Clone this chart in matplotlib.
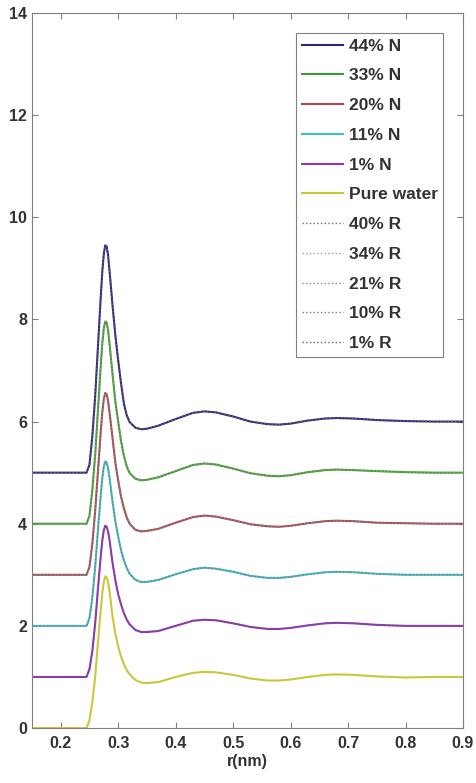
import numpy as np
import matplotlib
matplotlib.use('Agg')
import matplotlib.pyplot as plt

plt.rcParams['font.family'] = ['Liberation Sans', 'DejaVu Sans']

# r grid (nm)
r = [0.15, 0.245, 0.25, 0.255, 0.26, 0.265, 0.27, 0.2725, 0.275, 0.2775, 0.28, 0.2825,
     0.285, 0.29, 0.295, 0.30, 0.305, 0.31, 0.315, 0.32, 0.33, 0.34, 0.35, 0.37, 0.40,
     0.43, 0.45, 0.47, 0.50, 0.53, 0.56, 0.58, 0.60, 0.63, 0.66, 0.68, 0.71, 0.75,
     0.80, 0.85, 0.90]

# g(r) per curve (without offset)
g_44N = [0, 0, 0.15, 0.7, 1.5, 2.5, 3.5, 3.95, 4.28, 4.45, 4.43, 4.25, 3.95, 3.3, 2.7,
         2.2, 1.75, 1.35, 1.12, 0.99, 0.88, 0.85, 0.86, 0.92, 1.05, 1.17, 1.2, 1.18, 1.1,
         1.0, 0.95, 0.94, 0.96, 1.02, 1.06, 1.07, 1.06, 1.03, 1.01, 1.0, 1.0]
g_33N = [0, 0, 0.15, 0.65, 1.35, 2.25, 3.15, 3.55, 3.82, 3.96, 3.94, 3.78, 3.52, 2.95, 2.4,
         2.0, 1.62, 1.33, 1.12, 0.99, 0.88, 0.85, 0.86, 0.91, 1.03, 1.15, 1.18, 1.16, 1.08,
         0.99, 0.94, 0.93, 0.95, 1.01, 1.05, 1.06, 1.05, 1.03, 1.01, 1.0, 1.0]
g_20N = [0, 0, 0.15, 0.6, 1.25, 2.05, 2.85, 3.2, 3.44, 3.56, 3.54, 3.4, 3.18, 2.7, 2.2,
         1.85, 1.53, 1.3, 1.12, 1.0, 0.88, 0.85, 0.86, 0.9, 1.02, 1.13, 1.16, 1.14, 1.07,
         0.99, 0.95, 0.94, 0.96, 1.01, 1.05, 1.06, 1.05, 1.02, 1.01, 1.0, 1.0]
g_11N = [0, 0, 0.15, 0.55, 1.15, 1.9, 2.6, 2.9, 3.12, 3.22, 3.2, 3.08, 2.9, 2.45, 2.05,
         1.75, 1.48, 1.28, 1.13, 1.02, 0.9, 0.86, 0.86, 0.9, 1.01, 1.11, 1.14, 1.12, 1.06,
         0.98, 0.94, 0.94, 0.96, 1.01, 1.05, 1.06, 1.05, 1.02, 1.0, 1.0, 1.0]
g_1N = [0, 0, 0.15, 0.5, 1.05, 1.75, 2.4, 2.68, 2.87, 2.96, 2.94, 2.84, 2.68, 2.25, 1.9,
        1.62, 1.42, 1.25, 1.12, 1.03, 0.92, 0.88, 0.88, 0.9, 1.0, 1.1, 1.12, 1.11, 1.05,
        0.98, 0.94, 0.94, 0.96, 1.01, 1.05, 1.06, 1.05, 1.02, 1.0, 1.0, 1.0]
g_water = [0, 0, 0.15, 0.5, 1.0, 1.7, 2.35, 2.65, 2.86, 2.97, 2.95, 2.85, 2.68, 2.2, 1.85,
           1.6, 1.4, 1.25, 1.13, 1.05, 0.94, 0.89, 0.88, 0.9, 1.0, 1.08, 1.1, 1.09, 1.04,
           0.97, 0.93, 0.93, 0.95, 1.0, 1.04, 1.05, 1.04, 1.01, 0.99, 1.0, 1.0]

# the R curves lie on top of the N curves
g_40R = g_44N
g_34R = g_33N
g_21R = g_20N
g_10R = g_11N
g_1R = g_1N

n_labels = ['44% N', '33% N', '20% N', '11% N', '1% N', 'Pure water']
n_data = [g_44N, g_33N, g_20N, g_11N, g_1N, g_water]
n_offsets = [5, 4, 3, 2, 1, 0]
n_colors = ['#2a2a80', '#3c9a3c', '#b04545', '#3cc0c0', '#9a35b8', '#c8c83a']

r_labels = ['40% R', '34% R', '21% R', '10% R', '1% R']
r_data = [g_40R, g_34R, g_21R, g_10R, g_1R]
r_offsets = [5, 4, 3, 2, 1]
r_colors = ['#806060', '#a0a070', '#6a9aaa', '#8a708a', '#5a5a78']

fig = plt.figure(figsize=(4.77, 7.83), dpi=100)
ax = fig.add_axes([0.067, 0.0702, 0.9036, 0.9132])

for lab, g, off, c in zip(n_labels, n_data, n_offsets, n_colors):
    ax.plot(r, np.array(g) + off, color=c, lw=1.5, label=lab)
for lab, g, off, c in zip(r_labels, r_data, r_offsets, r_colors):
    ax.plot(r, np.array(g) + off, color=c, lw=1.0, ls=':', label=lab)

ax.set_xlim(0.15, 0.9)
ax.set_ylim(0, 14)
ax.set_xticks([0.2, 0.3, 0.4, 0.5, 0.6, 0.7, 0.8, 0.9])
ax.set_xticklabels(['0.2', '0.3', '0.4', '0.5', '0.6', '0.7', '0.8', '0.9'])
ax.set_yticks([0, 2, 4, 6, 8, 10, 12, 14])
ax.tick_params(direction='in', top=True, right=True, length=4, labelsize=11.5,
               color='#808080', labelcolor='#333333')
ax.tick_params(axis='x', pad=6)
for lbl in ax.get_xticklabels() + ax.get_yticklabels():
    lbl.set_fontweight('bold')
for s in ax.spines.values():
    s.set_color('#808080')
ax.set_xlabel('r(nm)', fontsize=11.5, fontweight='bold', color='#333333', labelpad=2)

leg = ax.legend(loc='upper right', bbox_to_anchor=(0.954, 0.972), borderaxespad=0,
                prop={'size': 12.5, 'weight': 'bold'}, labelspacing=0.84,
                handlelength=2.35, handletextpad=0.35, borderpad=0.32,
                fancybox=False, framealpha=1, edgecolor='#808080')
leg.get_frame().set_linewidth(0.8)
for t in leg.get_texts():
    t.set_color('#333333')

plt.savefig('out.png', dpi=100)
